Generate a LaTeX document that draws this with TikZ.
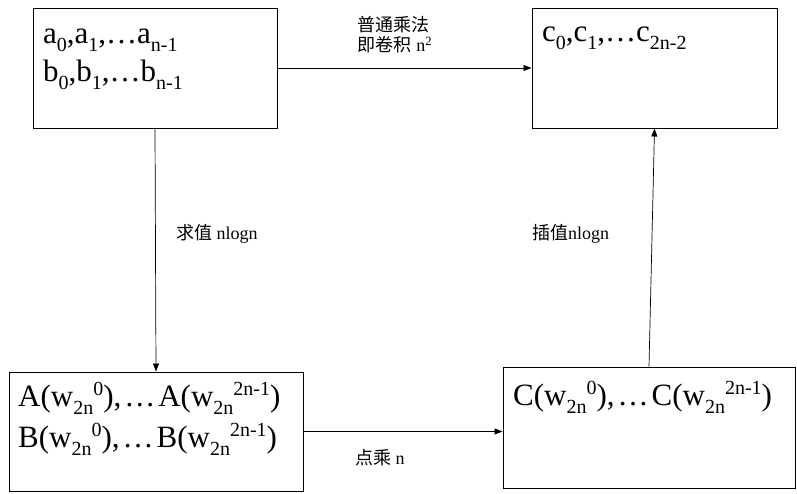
\documentclass[tikz,border=0pt]{standalone}
\usepackage{fontspec}
\setmainfont{Liberation Serif}
\newfontfamily\cjk{Noto Sans CJK SC}
\usetikzlibrary{arrows.meta}
\newcommand\sbs[1]{\raisebox{-0.27em}{\fontsize{20}{20}\selectfont #1}}
\newcommand\sps[1]{\raisebox{0.33em}{\fontsize{20}{20}\selectfont #1}}
\newcommand\wdots{\hspace{3pt}\ldots\hspace{3pt}}
\begin{document}
\begin{tikzpicture}[x=1pt,y=-1pt,
  box/.style={draw,line width=1pt,minimum width=#1,inner sep=0pt},
  boxtext/.style={anchor=base west,inner sep=0pt,font=\fontsize{31}{31}\selectfont},
  lbl/.style={inner sep=0pt,font=\fontsize{18}{20}\selectfont},
  conn/.style={line width=0.7pt,-{Triangle[length=8pt,width=6pt]}}]
\useasboundingbox (0,0) rectangle (797,493);
\node[box=244pt,minimum height=120pt] (b1) at (155,68) {};
\node[box=245pt,minimum height=120pt] (b2) at (654.5,68) {};
\node[box=294pt,minimum height=119pt] (b3) at (156,431.5) {};
\node[box=292pt,minimum height=121pt] (b4) at (649,427.5) {};
\node[boxtext] (t1a) at (43,43) {a\sbs{0},a\sbs{1},\ldots a\sbs{n-1}};
\node[boxtext] (t1b) at (43,81) {b\sbs{0},b\sbs{1},\ldots b\sbs{n-1}};
\node[boxtext] (t2) at (542,41) {c\sbs{0},c\sbs{1},\ldots c\sbs{2n-2}};
\node[boxtext] (t3a) at (18,406) {A(w\sbs{2n}\sps{0}),\wdots A(w\sbs{2n}\sps{2n-1})};
\node[boxtext] (t3b) at (18,447) {B(w\sbs{2n}\sps{0}),\wdots B(w\sbs{2n}\sps{2n-1})};
\node[boxtext] (t4) at (513,405) {C(w\sbs{2n}\sps{0}),\wdots C(w\sbs{2n}\sps{2n-1})};
\draw[conn] (b1.east) -- (b2.west);
\draw[conn] (b1.south) -- (b3.north);
\draw[conn] (b3.east) -- (b3.east -| b4.west);
\draw[conn] (b4.north) -- (b2.south);
\node[lbl] (l1) at (393,25) {\cjk 普通乘法};
\node[lbl] (l2) at (395,45) {{\cjk 即卷积} n\textsuperscript{2}};
\node[lbl,anchor=west] (l3) at (176,234) {{\cjk 求值} nlogn};
\node[lbl,anchor=west] (l4) at (532,234) {{\cjk 插值}nlogn};
\node[lbl,anchor=west] (l5) at (355,458) {{\cjk 点乘} n};
\end{tikzpicture}
\end{document}
